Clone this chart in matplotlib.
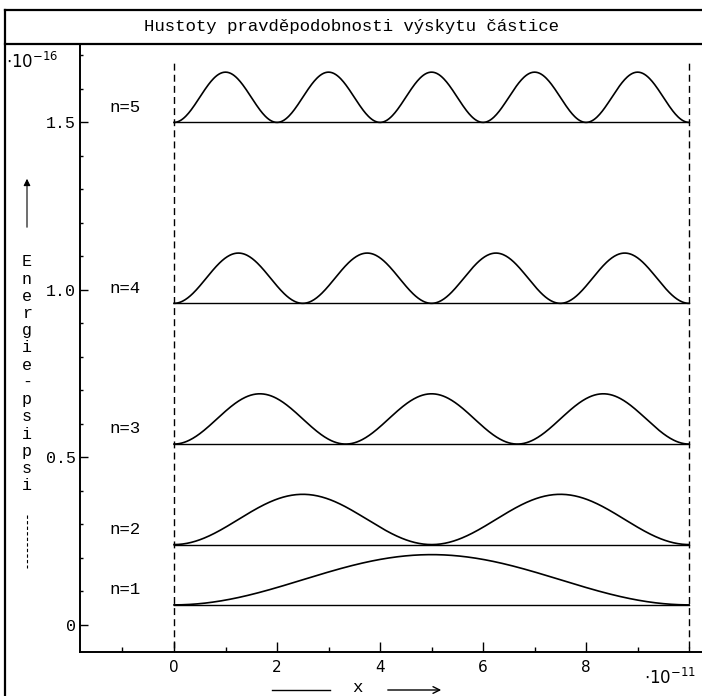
import numpy as np
import matplotlib.pyplot as plt
from matplotlib.lines import Line2D
from matplotlib.ticker import MultipleLocator

# particle in a box: quantum numbers and energy levels (units of 1e-16 J)
levels = [1, 2, 3, 4, 5]
energies = [0.06, 0.24, 0.54, 0.96, 1.50]
peak_height = 0.15      # height of the |psi|^2 bumps above each level
well_width = 10.0       # box length in units of 1e-11 m

x_ticks = [0, 2, 4, 6, 8]
x_tick_labels = ["0", "2", "4", "6", "8"]
y_ticks = [0, 0.5, 1.0, 1.5]
y_tick_labels = ["0", "0.5", "1.0", "1.5"]

title = "Hustoty pravděpodobnosti výskytu částice"
y_label = "Energie-psipsi"

MONO = "Liberation Mono"
W, H = 702, 696


def fx(px):
    return px / W


def fy(py):
    return 1 - py / H


fig = plt.figure(figsize=(W / 100, H / 100), dpi=100)
ax = fig.add_axes([fx(80), fy(652), fx(702) - fx(80), fy(44) - fy(652)])

x = np.linspace(0, well_width, 600)
for n, e in zip(levels, energies):
    dens = e + peak_height * np.sin(n * np.pi * x / well_width) ** 2
    ax.plot(x, dens, color="black", lw=1.2)
    ax.plot([0, well_width], [e, e], color="black", lw=1.0)
    ax.text(-1.25, e + 0.045, f"n={n}", family=MONO, fontsize=12.5,
            va="center", ha="left")

# walls of the well
for xw in [0, well_width]:
    ax.plot([xw, xw], [-0.1, 1.68], color="black", lw=1.0,
            linestyle=(0, (5, 3)))

ax.set_xlim(-1.825, 10.25)
ax.set_ylim(-0.0806, 1.734)

for side in ["top", "right"]:
    ax.spines[side].set_visible(False)
for side in ["left", "bottom"]:
    ax.spines[side].set_linewidth(1.4)

ax.set_xticks(x_ticks)
ax.set_xticklabels(x_tick_labels, family="DejaVu Sans", fontsize=11)
ax.set_yticks(y_ticks)
ax.set_yticklabels(y_tick_labels, family=MONO, fontsize=12)
ax.xaxis.set_minor_locator(MultipleLocator(1))
ax.yaxis.set_minor_locator(MultipleLocator(0.1))
ax.tick_params(axis="x", which="major", direction="in", length=7, width=1, pad=6)
ax.tick_params(axis="x", which="minor", direction="in", length=3.5, width=1)
ax.tick_params(axis="y", which="major", direction="in", length=6, width=1, pad=3)
ax.tick_params(axis="y", which="minor", direction="in", length=2.5, width=1)

# frame and title box
frame = dict(color="black", lw=1.6, transform=fig.transFigure)
fig.add_artist(Line2D([fx(5), fx(5)], [fy(10), 0], **frame))
fig.add_artist(Line2D([fx(5), 1], [fy(10), fy(10)], **frame))
fig.add_artist(Line2D([fx(5), 1], [fy(44), fy(44)], **frame))
fig.text(fx(352), fy(27), title, family=MONO, fontsize=12.5,
         ha="center", va="center")

# scale factors
fig.text(fx(6), fy(62), r"$\cdot 10^{-16}$", fontsize=12, ha="left", va="center")
fig.text(fx(644), fy(678), r"$\cdot 10^{-11}$", fontsize=12, ha="left", va="center")

# vertical axis label with arrow
fig.add_artist(Line2D([fx(27), fx(27)], [fy(515), fy(568)], color="black",
                      lw=0.8, linestyle=(0, (3, 2)), transform=fig.transFigure))
fig.add_artist(plt.matplotlib.patches.FancyArrowPatch(
    (fx(27), fy(230)), (fx(27), fy(176)), transform=fig.transFigure,
    arrowstyle="-|>", mutation_scale=10, color="black", lw=0.8))
for i, ch in enumerate(y_label):
    fig.text(fx(27), fy(262 + i * 17.2), ch, family=MONO, fontsize=12,
             ha="center", va="center")

# horizontal axis label with arrow
fig.add_artist(Line2D([fx(272), fx(330)], [fy(690), fy(690)], color="black",
                      lw=1.0, transform=fig.transFigure))
fig.add_artist(plt.matplotlib.patches.FancyArrowPatch(
    (fx(385), fy(690)), (fx(444), fy(690)), transform=fig.transFigure,
    arrowstyle="->", mutation_scale=12, color="black", lw=1.0))
fig.text(fx(357), fy(687), "x", family=MONO, fontsize=12.5,
         ha="center", va="center")

fig.savefig("out.png", dpi=100)
